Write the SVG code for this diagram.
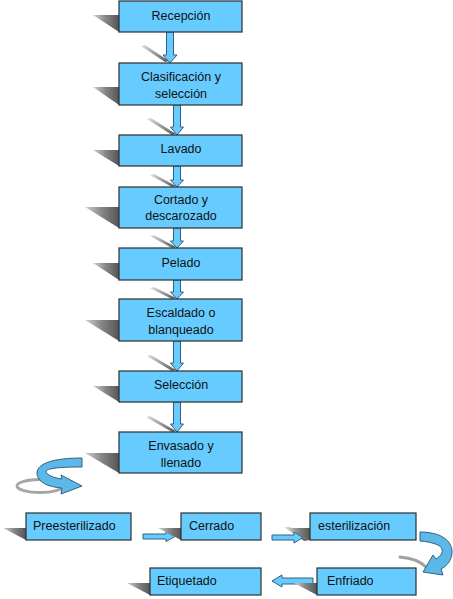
<svg xmlns="http://www.w3.org/2000/svg" width="453" height="599" viewBox="0 0 453 599">
<defs>
<linearGradient id="sh" x1="0" y1="0" x2="1" y2="0">
<stop offset="0" stop-color="#d0d0d0"/>
<stop offset="0.5" stop-color="#858585"/>
<stop offset="1" stop-color="#555"/>
</linearGradient>
<linearGradient id="ash" x1="0" y1="0" x2="1" y2="1">
<stop offset="0" stop-color="#e0e0e0"/>
<stop offset="1" stop-color="#555"/>
</linearGradient>
</defs>
<style>
.box{fill:#66ccff;stroke:#2e2e2e;stroke-width:1.2}
.shadow{fill:url(#sh)}
.ashadow{fill:url(#ash)}
.arrow{fill:#66ccff;stroke:#33607e;stroke-width:1}
.curl{fill:#5db8ea;stroke:#33607e;stroke-width:1}
.t{font-family:"Liberation Sans",Arial,sans-serif;font-size:12.5px;fill:#111}
.c{text-anchor:middle}
</style>
<rect width="453" height="599" fill="#ffffff"/>

<g id="connectors">
  <polygon class="ashadow" points="141,46 145,45 169,61 165,62"/>
  <polygon class="ashadow" points="147,119 151,118 176,134 172,135"/>
  <polygon class="ashadow" points="150,175 154,174 176,186 172,187"/>
  <polygon class="ashadow" points="150,236 154,235 176,247 172,248"/>
  <polygon class="ashadow" points="150,288 154,287 176,298 172,299"/>
  <polygon class="ashadow" points="147,356 151,355 176,370 172,371"/>
  <polygon class="ashadow" points="146,417 150,416 176,431 172,432"/>
  <polygon class="arrow" points="166.5,32 173.5,32 173.5,55 177,55 170,63 163,55 166.5,55"/>
  <polygon class="arrow" points="173.5,105 180.5,105 180.5,127 183.5,127 177,135 170.5,127 173.5,127"/>
  <polygon class="arrow" points="173.5,166 180.5,166 180.5,180 183.5,180 177,187 170.5,180 173.5,180"/>
  <polygon class="arrow" points="173.5,228 180.5,228 180.5,241 183.5,241 177,248 170.5,241 173.5,241"/>
  <polygon class="arrow" points="173.5,280 180.5,280 180.5,292 183.5,292 177,299 170.5,292 173.5,292"/>
  <polygon class="arrow" points="173.5,341 180.5,341 180.5,363 183.5,363 177,371 170.5,363 173.5,363"/>
  <polygon class="arrow" points="173.5,402 180.5,402 180.5,424 183.5,424 177,432 170.5,424 173.5,424"/>
  <ellipse cx="40" cy="486" rx="23" ry="6.5" fill="none" stroke="#a5a5a5" stroke-width="3"/>
  <path class="curl" d="M82,458 L82,467 C62,467 48,468 46,471 C46,475 54,478 62,479 L61,475 L82,486 L61,494 L62,488 C48,487 37,482 37,473 C37,463 55,458 82,458 Z"/>
  <polygon class="arrow" points="143,534 166,534 166,531.5 175,536.5 166,541.5 166,539 143,539"/>
  <polygon class="ashadow" points="284,527 290,527 310,540 304,541"/>
  <polygon class="arrow" points="272,535 294,535 294,532 303,537.5 294,543 294,540 272,540"/>
  <path d="M400,557 C412,558 420,561 426,567" fill="none" stroke="#a0a0a0" stroke-width="3" stroke-linecap="round"/>
  <path class="curl" d="M420,532 C440,532 452,540 452,552 C452,560 447,566 441,569 L443,575 L423,572 L433,555 L436,559 C441,556 443,552 442,549 C441,545 432,542 420,541 Z"/>
  <polygon class="arrow" points="313,578 282,578 282,575 272,581 282,587 282,584 313,584"/>
</g>

<g id="recepcion">
  <polygon class="shadow" points="93,15 119,15 119,32"/>
  <rect class="box" x="119" y="1" width="123" height="31"/>
  <text class="t c" x="181" y="20">Recepción</text>
</g>
<g id="clasificacion">
  <polygon class="shadow" points="93,87 119,87 119,105"/>
  <rect class="box" x="119" y="63" width="123" height="42"/>
  <text class="t c" x="181" y="81">Clasificación y</text>
  <text class="t c" x="181" y="98">selección</text>
</g>
<g id="lavado">
  <polygon class="shadow" points="93,150 119,150 119,166"/>
  <rect class="box" x="119" y="135" width="123" height="31"/>
  <text class="t c" x="181" y="153">Lavado</text>
</g>
<g id="cortado">
  <polygon class="shadow" points="85,207 119,207 119,228"/>
  <rect class="box" x="119" y="187" width="123" height="41"/>
  <text class="t c" x="181" y="204">Cortado y</text>
  <text class="t c" x="181" y="220">descarozado</text>
</g>
<g id="pelado">
  <polygon class="shadow" points="93,263 119,263 119,280"/>
  <rect class="box" x="119" y="248" width="123" height="32"/>
  <text class="t c" x="181" y="267">Pelado</text>
</g>
<g id="escaldado">
  <polygon class="shadow" points="85,320 119,320 119,341"/>
  <rect class="box" x="119" y="299" width="123" height="42"/>
  <text class="t c" x="181" y="317">Escaldado o</text>
  <text class="t c" x="181" y="334">blanqueado</text>
</g>
<g id="seleccion">
  <polygon class="shadow" points="93,386 119,386 119,402"/>
  <rect class="box" x="119" y="371" width="123" height="31"/>
  <text class="t c" x="181" y="389">Selección</text>
</g>
<g id="envasado">
  <polygon class="shadow" points="85,453 119,453 119,473"/>
  <rect class="box" x="119" y="432" width="123" height="41"/>
  <text class="t c" x="181" y="450">Envasado y</text>
  <text class="t c" x="181" y="467">llenado</text>
</g>
<g id="preesterilizado">
  <polygon class="shadow" points="3,528 26,528 26,540"/>
  <rect class="box" x="26" y="513" width="105" height="27"/>
  <text class="t" x="33" y="530">Preesterilizado</text>
</g>
<g id="cerrado">
  <polygon class="shadow" points="158,528 181,528 181,540"/>
  <rect class="box" x="181" y="513" width="80" height="27"/>
  <text class="t" x="189" y="530">Cerrado</text>
</g>
<g id="esterilizacion">
  <polygon class="shadow" points="287,528 310,528 310,540"/>
  <rect class="box" x="310" y="513" width="106" height="27"/>
  <text class="t" x="318" y="530">esterilización</text>
</g>
<g id="enfriado">
  <polygon class="shadow" points="294,583 317,583 317,595"/>
  <rect class="box" x="317" y="568" width="99" height="27"/>
  <text class="t" x="327" y="585">Enfriado</text>
</g>
<g id="etiquetado">
  <polygon class="shadow" points="127,583 150,583 150,595"/>
  <rect class="box" x="150" y="568" width="111" height="27"/>
  <text class="t" x="157" y="585">Etiquetado</text>
</g>
</svg>
